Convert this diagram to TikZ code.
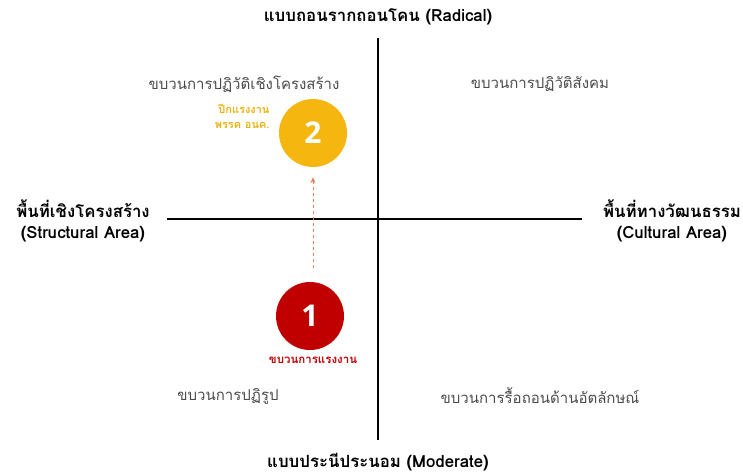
\documentclass[tikz,border=0pt]{standalone}
\usepackage{fontspec}
\usepackage{xcolor}
\usepackage{tikz}
\usetikzlibrary{arrows.meta}
\newfontfamily\thai[Script=Thai]{Loma}
\newfontfamily\numfont{Open Sans}
\definecolor{gold}{HTML}{F5B70F}
\definecolor{goldtext}{HTML}{E9B20E}
\definecolor{darkred}{HTML}{C00000}
\definecolor{arrowc}{HTML}{E8814F}

\begin{document}
\begin{tikzpicture}[x=1pt,y=-1pt,
  axislabel/.style={font=\thai\fontsize{16.8}{21}\selectfont\bfseries,align=center},
  quadlabel/.style={font=\thai\fontsize{15}{18}\selectfont,text=black!70},
  ball/.style={circle,minimum size=68pt,inner sep=0pt,text=white,font=\numfont\bfseries\fontsize{30}{32}\selectfont}]
\useasboundingbox (0,0) rectangle (743,474);

\coordinate (T) at (378,38);
\coordinate (B) at (378,440);
\coordinate (L) at (167,219);
\coordinate (R) at (582,219);

\draw [line width=2.8pt] (T) -- (B);
\draw [line width=2.8pt] (L) -- (R);

\node [axislabel] (radical) at (378,17) {แบบถอนรากถอนโคน (Radical)};
\node [axislabel] (moderate) at (378,462) {แบบประนีประนอม (Moderate)};
\node [axislabel] (structural) at (83,221) {พื้นที่เชิงโครงสร้าง\\(Structural Area)};
\node [axislabel] (cultural) at (672,221) {พื้นที่ทางวัฒนธรรม\\(Cultural Area)};

\node [quadlabel] (tl) at (244,84) {ขบวนการปฏิวัติเชิงโครงสร้าง};
\node [quadlabel] (tr) at (540,84) {ขบวนการปฏิวัติสังคม};
\node [quadlabel] (bl) at (228,396) {ขบวนการปฏิรูป};
\node [quadlabel] (br) at (540,396) {ขบวนการรื้อถอนด้านอัตลักษณ์};

\node [ball,fill=gold] (two) at (313,133) {2};
\node [ball,fill=darkred] (one) at (310,316) {1};

\node [anchor=east,align=right,text=goldtext,font=\thai\fontsize{11}{15}\selectfont\bfseries] (wing) at (273,116) {ปีกแรงงาน\\พรรค อนค.};
\node [text=darkred,font=\thai\fontsize{11.5}{14}\selectfont\bfseries] (labour) at (313,360) {ขบวนการแรงงาน};

\coordinate (start) at (313,268);
\draw [arrowc,dashed,line width=0.8pt,-{Stealth[length=6pt,width=5pt]}] (start) -- ([yshift=-10pt]two.south);
\end{tikzpicture}
\end{document}
